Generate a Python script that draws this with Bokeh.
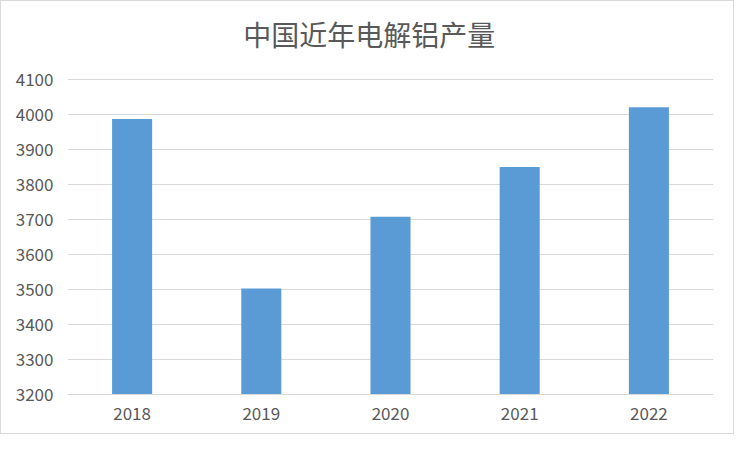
from bokeh.plotting import figure
from bokeh.models import Range1d, FixedTicker, ColumnDataSource, Label
from bokeh.embed import file_html
from bokeh.resources import INLINE

years = ["2018", "2019", "2020", "2021", "2022"]
output = [3987, 3503, 3708, 3850, 4021]
y_ticks = [3200, 3300, 3400, 3500, 3600, 3700, 3800, 3900, 4000, 4100]
title_text = "中国近年电解铝产量"

FONT = "Noto Sans CJK SC"
TXT = "#595959"
GRID = "#d9d9d9"

src = ColumnDataSource(dict(year=years, val=output))

# the frame extends above the 4100 gridline to leave room for the title
p = figure(
    x_range=years, y_range=Range1d(3200, 4323),
    width=734, height=434, output_backend="svg", toolbar_location=None,
    min_border_left=66, min_border_right=22, min_border_top=0, min_border_bottom=41,
)
p.styles = {"border": "1px solid #d9d9d9"}
p.title.visible = False

p.vbar(x="year", top="val", bottom=3200, width=0.31, source=src,
       fill_color="#5b9bd5", line_color=None)

# chart title, centred over the whole chart area
p.add_layout(Label(
    x=2.335, y=4229, text=title_text, text_align="center", text_baseline="middle",
    text_font=FONT, text_font_size="28px", text_color=TXT,
))

p.yaxis.ticker = FixedTicker(ticks=y_ticks)
p.yaxis.axis_line_color = None
p.yaxis.major_tick_line_color = None
p.yaxis.minor_tick_line_color = None
p.yaxis.major_label_standoff = 8
p.xaxis.axis_line_color = GRID
p.xaxis.major_tick_line_color = None
p.xaxis.major_label_standoff = 6
for ax in (p.xaxis, p.yaxis):
    ax.major_label_text_font = FONT
    ax.major_label_text_font_size = "17px"
    ax.major_label_text_color = TXT

p.xgrid.grid_line_color = None
p.ygrid.grid_line_color = GRID
p.ygrid.grid_line_width = 1
p.outline_line_color = None
p.background_fill_color = "white"
p.border_fill_color = "white"

open("out.html", "w").write(file_html(p, INLINE))
